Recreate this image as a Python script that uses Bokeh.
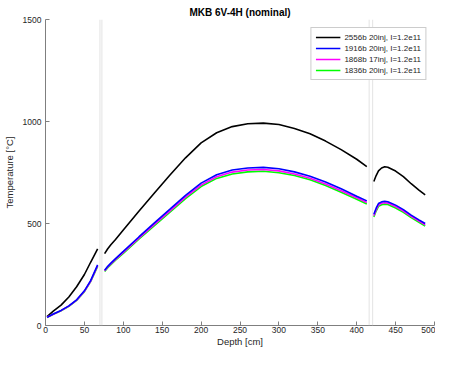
import math
from bokeh.plotting import figure
from bokeh.models import Span, Legend, LegendItem, FixedTicker, Range1d
from bokeh.embed import file_html
from bokeh.resources import INLINE

# ---- data ----
title_text = "MKB 6V-4H (nominal)"
x_label = "Depth [cm]"
y_label = "Temperature [°C]"

series_names = ["2556b 20inj, I=1.2e11", "1916b 20inj, I=1.2e11",
                "1868b 17inj, I=1.2e11", "1836b 20inj, I=1.2e11"]
series_colors = ["#000000", "#0000ff", "#ff00ff", "#00ff00"]

depth_seg1 = [2, 10, 20, 30, 40, 50, 58, 67]
depth_seg2 = [76, 80, 84, 90, 100, 120, 140, 160, 180, 200, 220, 240, 260, 280,
              300, 320, 340, 360, 380, 400, 413]
depth_seg3 = [422, 425, 428, 432, 436, 440, 450, 460, 470, 480, 488]

black_seg1 = [44, 70, 100, 140, 190, 250, 310, 376]
black_seg2 = [352, 376, 396, 422, 468, 560, 650, 738, 822, 895, 945, 975, 989, 992,
              985, 966, 940, 904, 862, 815, 779]
black_seg3 = [706, 735, 758, 772, 778, 776, 757, 730, 695, 664, 640]

blue_seg1 = [40, 56, 74, 96, 126, 170, 220, 297]
blue_seg2 = [271, 290, 306, 328, 363, 434, 503, 570, 638, 698, 739, 762, 772, 775,
             768, 753, 732, 703, 670, 634, 611]
blue_seg3 = [545, 575, 598, 606, 609, 607, 590, 568, 541, 518, 500]

magenta_seg1 = [40, 55, 73, 95, 124, 168, 217, 293]
magenta_seg2 = [268, 287, 302, 324, 358, 428, 496, 562, 629, 688, 729, 752, 762, 765,
                758, 743, 722, 694, 661, 626, 603]
magenta_seg3 = [538, 568, 591, 599, 602, 600, 583, 561, 535, 512, 494]

green_seg1 = [39, 55, 72, 94, 123, 166, 215, 290]
green_seg2 = [265, 283, 298, 320, 354, 423, 490, 556, 622, 681, 721, 743, 753, 756,
              749, 735, 714, 686, 653, 619, 596]
green_seg3 = [532, 561, 584, 592, 595, 593, 576, 555, 529, 506, 488]

boundary_depths = [70, 72.5, 416, 420.5]

x_ticks = [0, 50, 100, 150, 200, 250, 300, 350, 400, 450, 500]
y_ticks = [0, 500, 1000, 1500]

# ---- helpers ----
NAN = float("nan")


def join(s1, s2, s3):
    return s1 + [NAN] + s2 + [NAN] + s3


xs = join(depth_seg1, depth_seg2, depth_seg3)
series_values = [
    join(black_seg1, black_seg2, black_seg3),
    join(blue_seg1, blue_seg2, blue_seg3),
    join(magenta_seg1, magenta_seg2, magenta_seg3),
    join(green_seg1, green_seg2, green_seg3),
]

FONT = "Liberation Sans"
TXT = "#262626"
AX = "#7f7f7f"

p = figure(width=435, height=349, output_backend="svg", toolbar_location=None,
           x_range=Range1d(0, 500), y_range=Range1d(0, 1500),
           min_border_left=35, min_border_right=1, min_border_top=19,
           min_border_bottom=20)
p.title.text = title_text
p.title.align = "center"
p.title.text_font = FONT
p.title.text_font_size = "10px"
p.title.text_font_style = "bold"
p.title.text_color = "#000000"
p.title.standoff = 4
p.title.offset = 0

p.outline_line_color = None
p.xgrid.visible = False
p.ygrid.visible = False
p.background_fill_color = "white"
p.border_fill_color = "white"

for ax, ticks in ((p.xaxis[0], x_ticks), (p.yaxis[0], y_ticks)):
    ax.ticker = FixedTicker(ticks=ticks)
    ax.minor_tick_line_color = None
    ax.major_tick_in = 4
    ax.major_tick_out = 0
    ax.axis_line_color = AX
    ax.major_tick_line_color = AX
    ax.major_label_text_font = FONT
    ax.major_label_text_font_size = "8.5px"
    ax.major_label_text_color = TXT
    ax.axis_label_text_font = FONT
    ax.axis_label_text_font_size = "9.5px"
    ax.axis_label_text_font_style = "normal"
    ax.axis_label_text_color = TXT

p.xaxis.axis_label = x_label
p.yaxis.axis_label = y_label
p.xaxis.major_label_standoff = 1
p.xaxis.axis_label_standoff = 0
p.yaxis.major_label_standoff = 4
p.yaxis.axis_label_standoff = 5

for b in boundary_depths:
    p.add_layout(Span(location=b, dimension="height", line_color="#dcdcdc",
                      line_width=0.8))

renderers = [None] * 4
order = [0, 3, 2, 1]
for i in order:
    renderers[i] = p.line(xs, series_values[i], line_color=series_colors[i],
                          line_width=1.6)

legend = Legend(items=[LegendItem(label=n, renderers=[r])
                       for n, r in zip(series_names, renderers)],
                location="top_right")
legend.margin = 8
legend.padding = 4
legend.spacing = 1
legend.label_height = 10
legend.glyph_height = 10
legend.glyph_width = 25
legend.label_standoff = 4
legend.label_text_font = FONT
legend.label_text_font_size = "8px"
legend.label_text_color = TXT
legend.border_line_color = "#9a9a9a"
legend.border_line_width = 1
legend.background_fill_alpha = 1
p.add_layout(legend, "center")

open("out.html", "w").write(file_html(p, INLINE))
